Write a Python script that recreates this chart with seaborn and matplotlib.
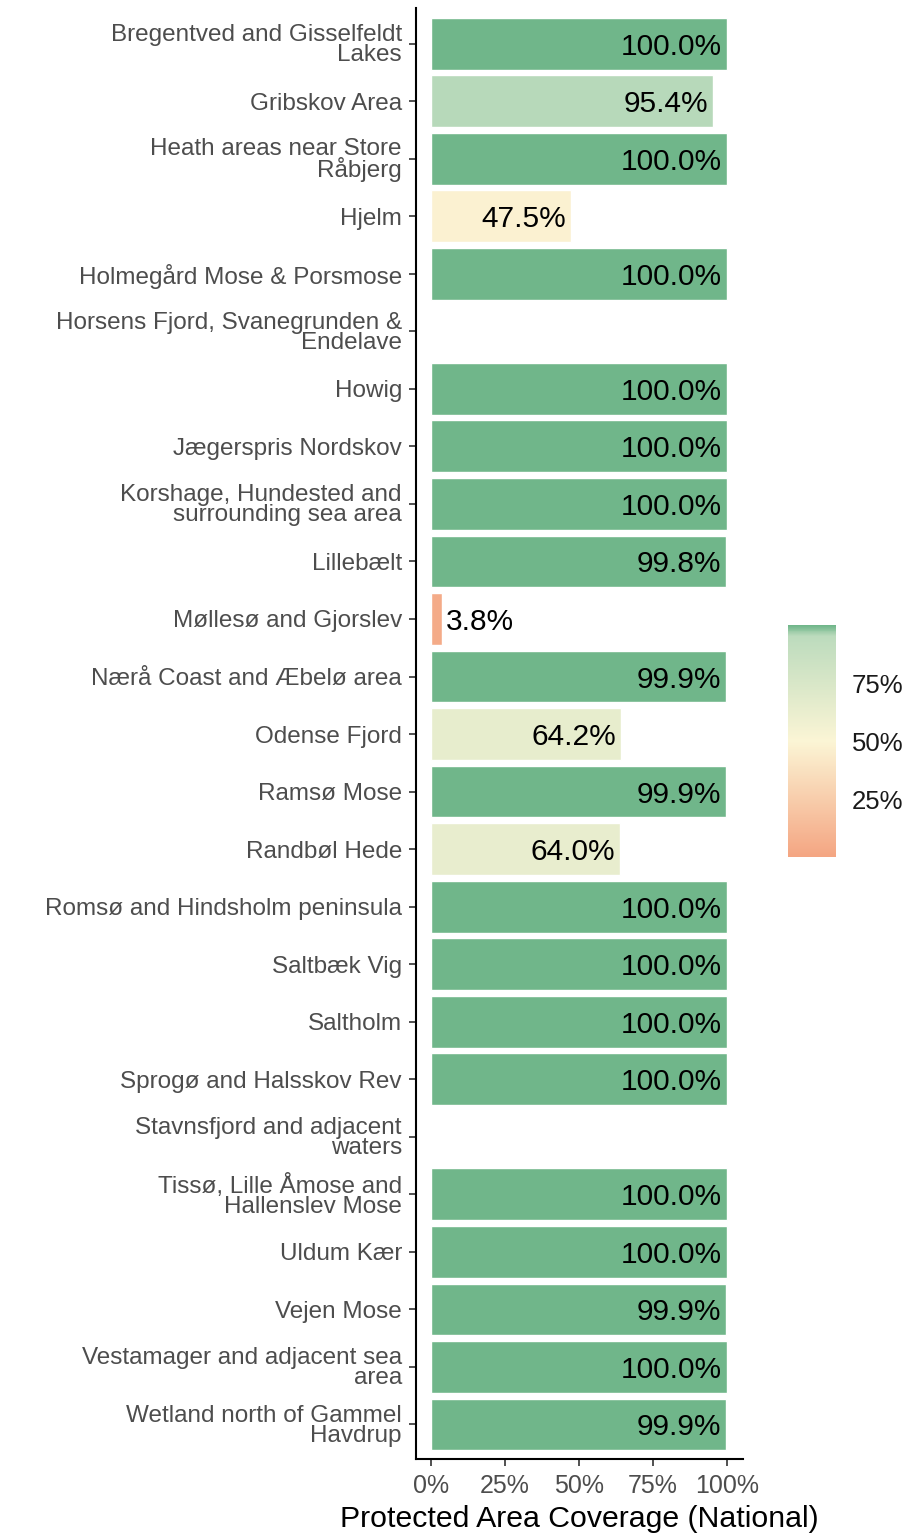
import numpy as np
import pandas as pd
import matplotlib
matplotlib.use('Agg')
import matplotlib.pyplot as plt
import seaborn as sns
from matplotlib.colors import LinearSegmentedColormap, Normalize
from matplotlib.cm import ScalarMappable

# Site names (wrapped the way they appear on the axis)
sites = [
    'Bregentved and Gisselfeldt\nLakes',
    'Gribskov Area',
    'Heath areas near Store\nRåbjerg',
    'Hjelm',
    'Holmegård Mose & Porsmose',
    'Horsens Fjord, Svanegrunden &\nEndelave',
    'Howig',
    'Jægerspris Nordskov',
    'Korshage, Hundested and\nsurrounding sea area',
    'Lillebælt',
    'Møllesø and Gjorslev',
    'Nærå Coast and Æbelø area',
    'Odense Fjord',
    'Ramsø Mose',
    'Randbøl Hede',
    'Romsø and Hindsholm peninsula',
    'Saltbæk Vig',
    'Saltholm',
    'Sprogø and Halsskov Rev',
    'Stavnsfjord and adjacent\nwaters',
    'Tissø, Lille Åmose and\nHallenslev Mose',
    'Uldum Kær',
    'Vejen Mose',
    'Vestamager and adjacent sea\narea',
    'Wetland north of Gammel\nHavdrup',
]

# protected area coverage in percent (NaN = no data)
coverage = [100.0, 95.4, 100.0, 47.5, 100.0, np.nan, 100.0, 100.0, 100.0, 99.8,
            3.8, 99.9, 64.2, 99.9, 64.0, 100.0, 100.0, 100.0, 100.0, np.nan,
            100.0, 100.0, 99.9, 100.0, 99.9]

colorbar_ticks = [25, 50, 75]

df = pd.DataFrame({'site': sites, 'coverage': coverage})

cmap = LinearSegmentedColormap.from_list(
    'cov', [(0.0, '#F4A582'), (0.5, '#FBF5D5'), (0.954, '#BCDBBD'), (1.0, '#70B68A')])
norm = Normalize(vmin=0, vmax=100)
palette = {s: cmap(norm(v)) if not np.isnan(v) else 'white' for s, v in zip(sites, coverage)}

sns.set_style('white')
plt.rcParams['font.family'] = ['Liberation Sans', 'DejaVu Sans']

fig = plt.figure(figsize=(9.06, 15.34), dpi=100)
ax = fig.add_axes([0.459, 0.0489, 0.361, 0.9459])

plot_df = df.dropna()
sns.barplot(data=plot_df, x='coverage', y='site', order=sites, hue='site',
            palette=palette, saturation=1, legend=False, width=0.9,
            edgecolor='white', linewidth=1, ax=ax)

# value labels
for i, v in enumerate(coverage):
    if np.isnan(v):
        continue
    if v > 20:
        ax.text(v - 1.6, i, f'{v:.1f}%', ha='right', va='center_baseline',
                fontsize=21.5, color='black')
    else:
        ax.text(v + 1.2, i, f'{v:.1f}%', ha='left', va='center_baseline',
                fontsize=21.5, color='black')

ax.set_xlim(-5, 105.5)
ax.set_ylim(len(sites) - 0.4, -0.62)
ax.set_xticks([0, 25, 50, 75, 100])
ax.set_xticklabels(['0%', '25%', '50%', '75%', '100%'])
ax.set_xlabel('Protected Area Coverage (National)', fontsize=21.8, color='black', labelpad=5)
ax.set_ylabel('')
for lab in ax.get_yticklabels():
    lab.set_linespacing(0.88)
ax.tick_params(axis='y', labelsize=17.5, labelcolor='#4D4D4D', length=5, width=1.2,
               color='#333333', direction='out', left=True, pad=5)
ax.tick_params(axis='x', labelsize=18, labelcolor='#4D4D4D', length=5, width=1.2,
               color='#333333', direction='out', bottom=True, pad=6)
for side in ['top', 'right']:
    ax.spines[side].set_visible(False)
for side in ['left', 'bottom']:
    ax.spines[side].set_color('black')
    ax.spines[side].set_linewidth(1.5)

# colour bar legend
cax = fig.add_axes([0.870, 0.4413, 0.053, 0.1512])
cb = fig.colorbar(ScalarMappable(norm=norm, cmap=cmap), cax=cax)
cb.outline.set_visible(False)
cb.set_ticks(colorbar_ticks)
cb.set_ticklabels([f'{t}%' for t in colorbar_ticks])
cax.tick_params(left=True, right=True, direction='in', color='white', length=7,
                width=1, labelsize=18.5, labelcolor='#1A1A1A', labelleft=False,
                labelright=True, pad=11)

fig.savefig('out.png', dpi=100)
